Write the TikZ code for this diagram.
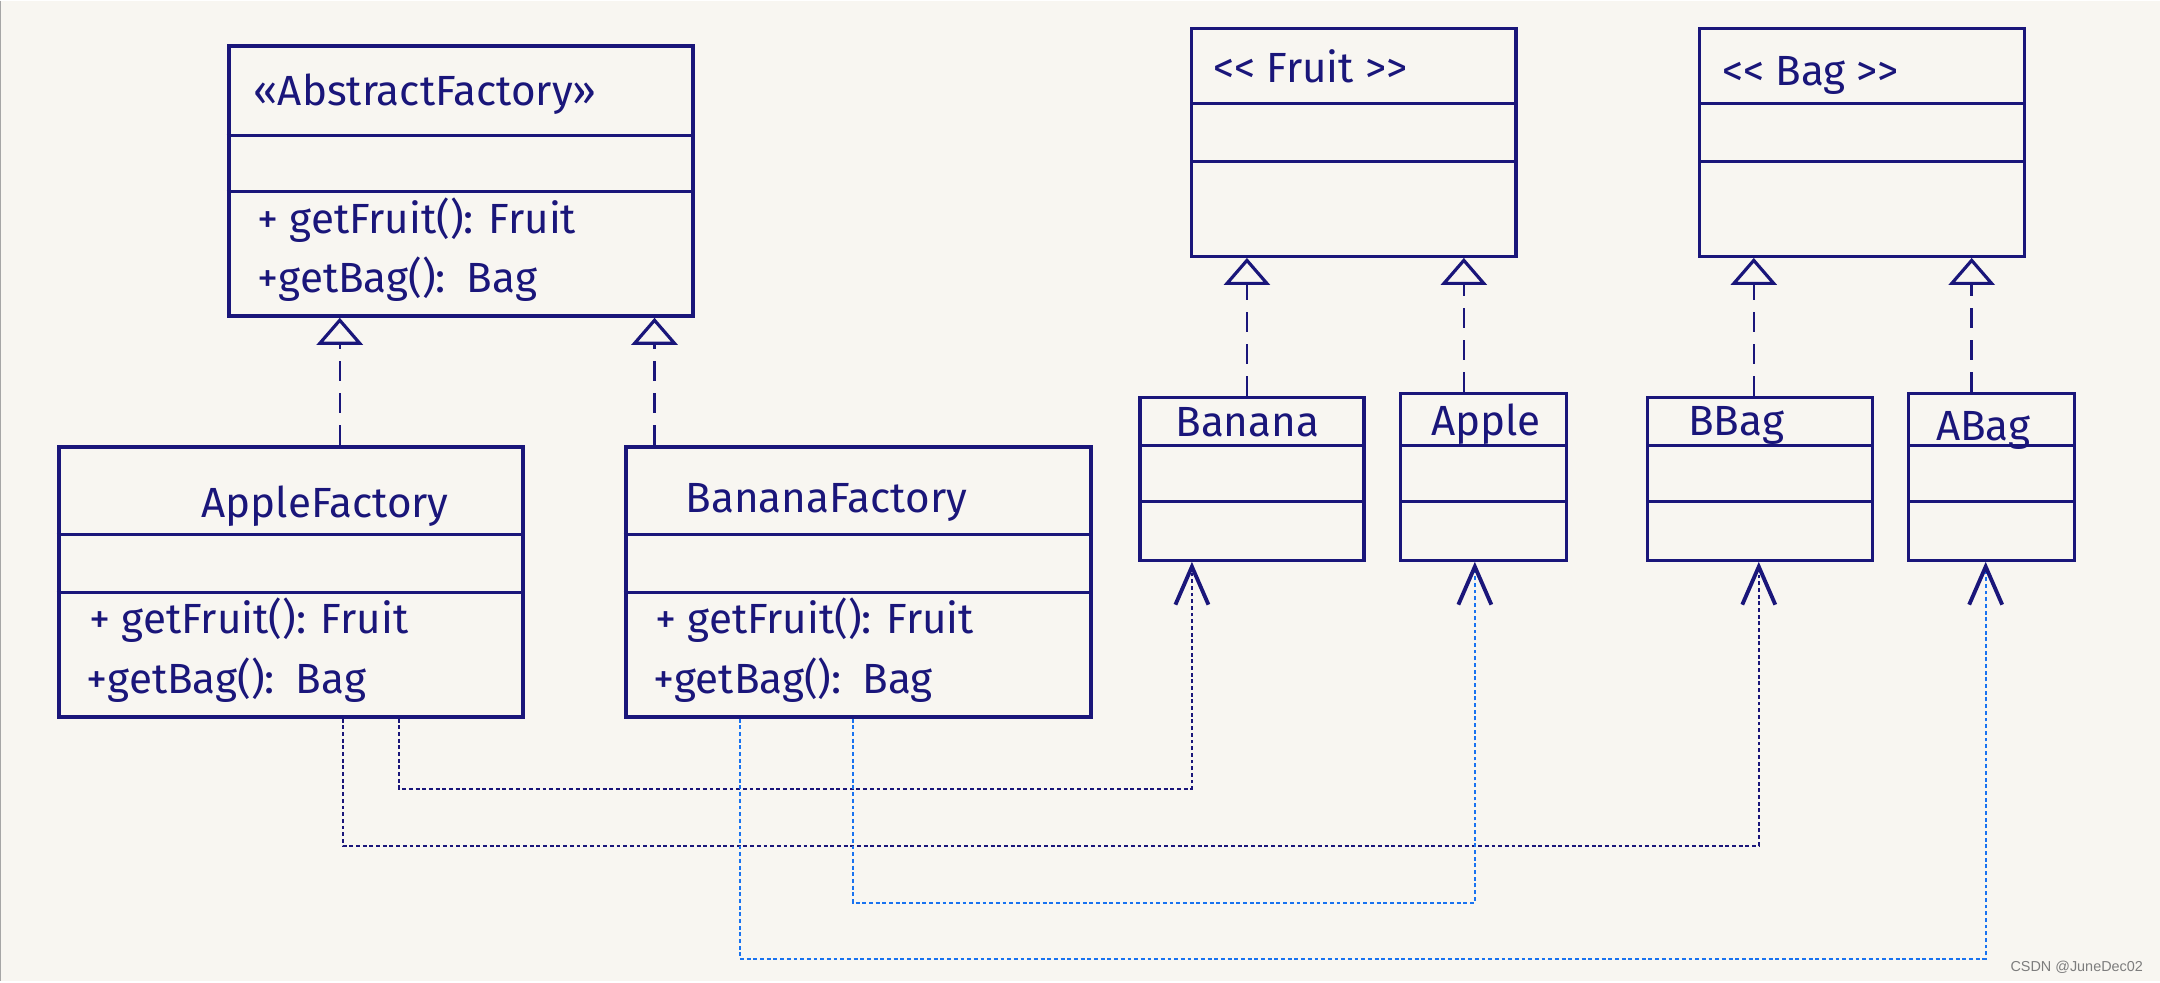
\documentclass[tikz,border=0pt]{standalone}
\usepackage{fontspec}
\setmainfont{Fira Sans}
\newfontfamily\markfont{Liberation Sans}
\usetikzlibrary{arrows.meta}
\newcommand\lt{\textless\kern0pt\textless}
\newcommand\gt{\textgreater\kern0pt\textgreater}
\definecolor{ink}{RGB}{26,22,122}
\definecolor{ink_blue}{RGB}{25,115,240}
\definecolor{paper}{RGB}{248,246,241}
\definecolor{mark_gray}{RGB}{125,125,125}

\begin{document}
\begin{tikzpicture}[x=0.01cm,y=-0.01cm,semithick]
    \tikzstyle{cls}=[draw=ink, line width=0.9pt, rectangle, anchor=north west, inner sep=0pt]
    \tikzstyle{clsbig}=[style=cls, line width=1.15pt]
    \tikzstyle{divider}=[draw=ink, line width=0.8pt]
    \tikzstyle{clstitle}=[text=ink, anchor=base west, inner sep=0pt, font=\fontsize{12}{14}\selectfont]
    \tikzstyle{clsattr}=[style=clstitle]
    \tikzstyle{impl}=[ink, line width=0.7pt, dash pattern=on 2mm off 1.2mm, -{Triangle[open,width=4.6mm,length=2.7mm,line width=0.9pt]}]
    \tikzstyle{dep}=[ink, line width=0.6pt, dash pattern=on 1.1pt off 0.8pt, -{Straight Barb[ink,width=3.3mm,length=3.8mm,line width=1.1pt]}]
    \tikzstyle{depblue}=[style=dep, ink_blue]

    % paper
    \fill[paper] (0,0) rectangle (2160,981);
    \draw[gray!70, line width=0.4pt] (0,0) -- (0,981);

    % factories
    \node[clsbig, minimum width=4.64cm, minimum height=2.70cm] (AbsF)    at (226,43)  {};
    \node[clsbig, minimum width=4.64cm, minimum height=2.70cm] (AppleF)  at (56,444)  {};
    \node[clsbig, minimum width=4.65cm, minimum height=2.70cm] (BananaF) at (623,444) {};

    % products
    \node[cls, minimum width=3.24cm, minimum height=2.28cm] (Fruit)  at (1190,26)  {};
    \node[cls, minimum width=3.25cm, minimum height=2.28cm] (Bag)    at (1698,26)  {};
    \node[cls, minimum width=2.24cm, minimum height=1.63cm] (Banana) at (1138,395) {};
    \node[cls, minimum width=1.66cm, minimum height=1.67cm] (Apple)  at (1399,391) {};
    \node[cls, minimum width=2.25cm, minimum height=1.63cm] (BBag)   at (1646,395) {};
    \node[cls, minimum width=1.66cm, minimum height=1.67cm] (ABag)   at (1907,391) {};

    \foreach \n/\ya/\yb in {AbsF/135/191, AppleF/534/592, BananaF/534/592,
                            Fruit/103/161, Bag/103/161, Banana/445/501,
                            Apple/445/501, BBag/445/501, ABag/445/501}
      \draw[divider] (\n.west |- 0,\ya) -- (\n.east |- 0,\ya)
                     (\n.west |- 0,\yb) -- (\n.east |- 0,\yb);

    \node[clstitle] (AbsF_t)     at (252,105)  {«AbstractFactory»};
    \node[clsattr]  (AbsF_a1)    at (256,233)  {+ getFruit(): Fruit};
    \node[clsattr]  (AbsF_a2)    at (256,292)  {+getBag():\enspace Bag};
    \node[clstitle] (AppleF_t)   at (200,517)  {AppleFactory};
    \node[clsattr]  (AppleF_a1)  at (88,633)   {+ getFruit(): Fruit};
    \node[clsattr]  (AppleF_a2)  at (85,693)   {+getBag():\enspace Bag};
    \node[clstitle] (BananaF_t)  at (684,512)  {BananaFactory};
    \node[clsattr]  (BananaF_a1) at (654,633)  {+ getFruit(): Fruit};
    \node[clsattr]  (BananaF_a2) at (652,693)  {+getBag():\enspace Bag};
    \node[clstitle] (Fruit_t)    at (1212,82)  {\lt{} Fruit \gt};
    \node[clstitle] (Bag_t)      at (1721,85)  {\lt{} Bag \gt};
    \node[clstitle] (Banana_t)   at (1174,436) {Banana};
    \node[clstitle] (Apple_t)    at (1430,435) {Apple};
    \node[clstitle] (BBag_t)     at (1687,435) {BBag};
    \node[clstitle] (ABag_t)     at (1935,440) {ABag};

    % realisation
    \coordinate (AppleF_up)  at ([xshift=0.49cm]AppleF.north);
    \coordinate (BananaF_up) at ([xshift=-2.035cm]BananaF.north);
    \coordinate (Banana_up)  at ([xshift=-0.05cm]Banana.north);
    \coordinate (Apple_up)   at ([xshift=-0.2cm]Apple.north);
    \coordinate (BBag_up)    at ([xshift=-0.065cm]BBag.north);
    \coordinate (ABag_up)    at ([xshift=-0.2cm]ABag.north);
    \draw[impl] (AppleF_up)  -- (AppleF_up |- AbsF.south);
    \draw[impl] (BananaF_up) -- (BananaF_up |- AbsF.south);
    \draw[impl] (Banana_up)  -- (Banana_up |- Fruit.south);
    \draw[impl] (Apple_up)   -- (Apple_up |- Fruit.south);
    \draw[impl] (BBag_up)    -- (BBag_up |- Bag.south);
    \draw[impl] (ABag_up)    -- (ABag_up |- Bag.south);

    % dependencies
    \draw[dep]     ([xshift=1.08cm]AppleF.south)    -- ++(0,70)  -| ([xshift=-0.6cm]Banana.south);
    \draw[dep]     ([xshift=0.52cm]AppleF.south)    -- ++(0,127) -| ([xshift=-0.015cm]BBag.south);
    \draw[depblue] ([xshift=-0.055cm]BananaF.south) -- ++(0,184) -| ([xshift=-0.09cm]Apple.south);
    \draw[depblue] ([xshift=-1.185cm]BananaF.south) -- ++(0,240) -| ([xshift=-0.06cm]ABag.south);

    \node[text=mark_gray, font=\markfont\fontsize{4.1}{5}\selectfont, anchor=base east, inner sep=0pt] (mark) at (2144,971) {CSDN @JuneDec02};
\end{tikzpicture}
\end{document}
